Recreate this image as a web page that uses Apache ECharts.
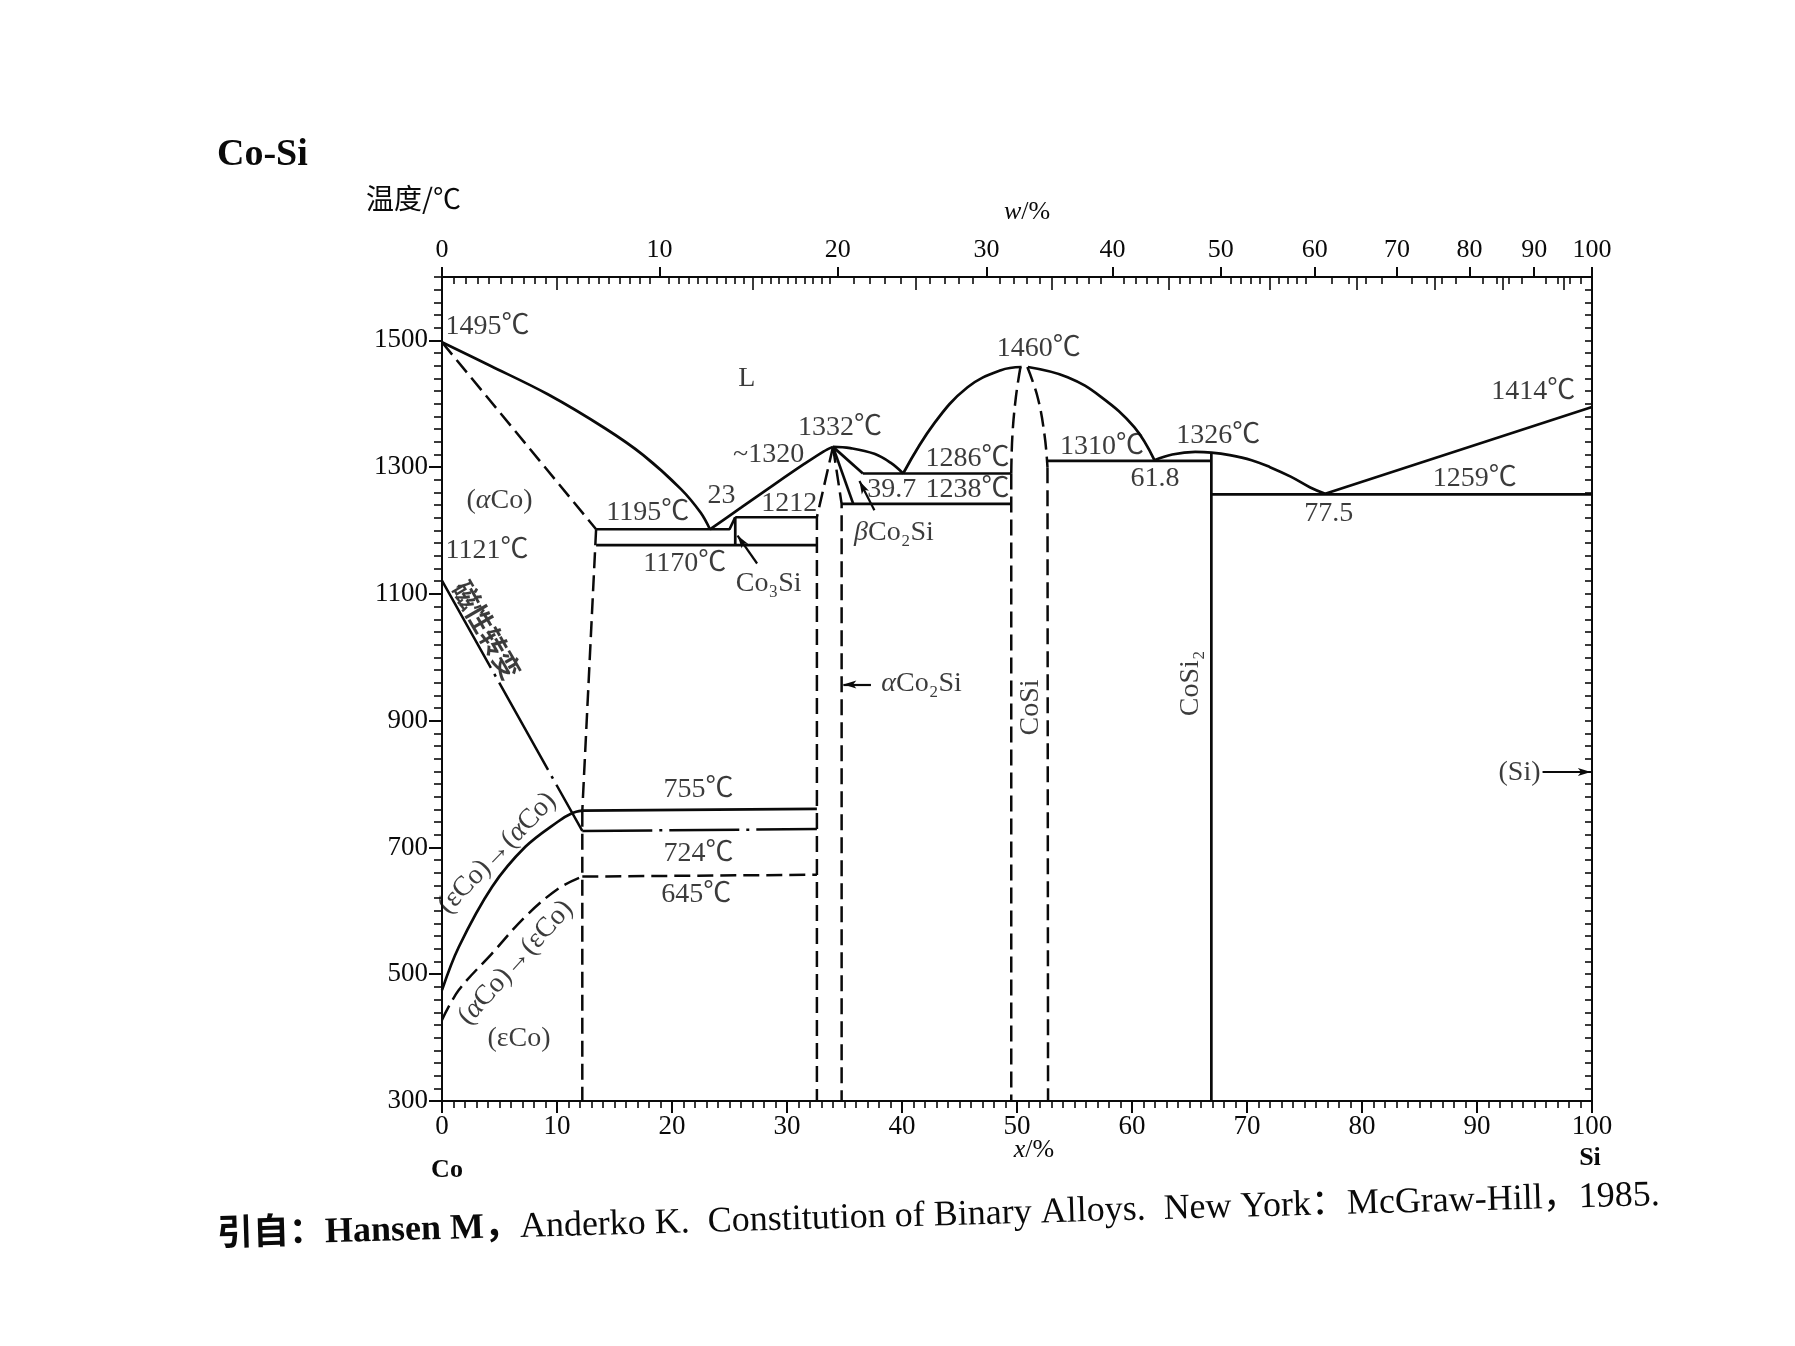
<!DOCTYPE html>
<html><head><meta charset="utf-8">
<script src="https://cdn.jsdelivr.net/npm/echarts@6/dist/echarts.min.js"></script>
<style>html,body{margin:0;padding:0;background:#fff;}#c{width:1795px;height:1346px;}</style>
</head><body><div id="c"></div>
<script>
const FONT = "'Liberation Serif','Noto Sans CJK SC',serif";
const CJK = "'Noto Sans CJK SC','Liberation Serif',sans-serif";
const INK = '#0a0a0a';

// ---- tick labels ----
const xTickLabels = [0,10,20,30,40,50,60,70,80,90,100];          // x/% (at.% Si)
const yTickLabels = [300,500,700,900,1100,1300,1500];            // temperature
const wtTickLabels = [0,10,20,30,40,50,60,70,80,90,100];         // w/% (wt.% Si)

// ---- phase boundaries: [x at.% Si, T °C] ----
const liquidusCo      = [[0,1497],[4.2,1460],[9.2,1415],[14.2,1361],[17.5,1319],[20.8,1265],[22.5,1228],[23.3,1202]];
const solidusCo       = [[0,1497],[13.4,1202]];
const solvusCoUpper   = [[13.4,1202],[12.2,758]];
const solvusCoLower   = [[12.2,758],[12.2,300]];
const eutectic1195    = [[13.4,1202],[25.0,1202],[25.5,1221]];
const peritectic1212  = [[25.5,1221],[32.6,1221]];
const co3SiLine       = [[25.5,1221],[25.5,1177]];
const eutectoid1170   = [[13.4,1177],[32.6,1177]];
const liquidusCo2SiL  = [[23.3,1202],[26,1236],[29,1274],[31.5,1305],[33.2,1325],[34,1332]];
const liquidusCo2SiR  = [[34,1332],[35.5,1330],[37.6,1321],[39,1307],[40.1,1290]];
const co2SiLeftDash   = [[34,1332],[32.6,1221],[32.6,300]];
const co2SiRightDash  = [[34,1332],[34.75,1242],[34.75,300]];
const betaBoundUpper  = [[34,1332],[36.6,1290]];
const betaBoundLower  = [[34,1332],[35.76,1242]];
const eutectic1286    = [[36.6,1290],[49.5,1290]];
const eutectoid1238   = [[34.75,1242],[49.5,1242]];
const liquidusCoSiL   = [[40.1,1290],[42.8,1369],[45.7,1426],[48.6,1453],[50.4,1458]];
const liquidusCoSiR   = [[50.95,1458],[54.4,1442],[57.3,1411],[60.2,1363],[61.95,1311]];
const coSiLeftTop     = [[50.3,1458],[49.9,1410],[49.6,1350],[49.5,1290]];
const coSiLeftLow     = [[49.5,1290],[49.5,300]];
const coSiRightTop    = [[50.9,1458],[51.8,1410],[52.4,1350],[52.65,1300]];
const coSiRightLow    = [[52.65,1300],[52.7,300]];
const eutectic1310    = [[52.65,1310],[66.9,1310]];
const liquidusCoSi2   = [[61.95,1311],[63.5,1320],[65.5,1324],[66.9,1323],[68.5,1319],[70.4,1311],[72,1300],[73.8,1285],[75.5,1268],[76.8,1258]];
const coSi2Line       = [[66.9,1323],[66.9,300]];
const eutectic1259    = [[66.9,1257],[100,1257]];
const liquidusSi      = [[76.8,1258],[100,1395]];
const magneticLine    = [[0,1121],[12.2,726]];
const line755         = [[12.2,758],[32.6,761]];
const line724         = [[12.2,726],[32.6,729]];
const line645         = [[12.2,654],[32.6,657]];
const epsToAlpha      = [[0,475],[1.46,543],[4.36,638],[7.25,701],[10.1,741],[11.3,754],[12.2,758]];
const alphaToEps      = [[0,428],[1.46,475],[4.36,533],[7.25,591],[10.1,635],[12.2,654]];

// ---- annotations: [text, x, T, rotate, align, font] ----
const annotations = [
  ['1495℃',0.3,1522,0,'left'],
  ['L',26.5,1440,0],
  ['1332℃',34.6,1363,0],
  ['~1320',28.4,1320,0],
  ['1460℃',51.9,1487,0],
  ['1286℃',45.7,1314,0],
  ['1238℃',45.7,1264,0],
  ['39.7',39.1,1264,0],
  ['{i|β}Co₂Si',39.3,1197,0],
  ['1310℃',57.4,1332,0],
  ['61.8',62.0,1282,0],
  ['1326℃',67.5,1350,0],
  ['1414℃',94.9,1419,0],
  ['1259℃',89.8,1282,0],
  ['77.5',77.1,1226,0],
  ['({i|α}Co)',5.0,1247,0],
  ['1195℃',17.9,1229,0],
  ['23',24.3,1255,0],
  ['1212',30.2,1242,0],
  ['1121℃',0.3,1168,0,'left'],
  ['1170℃',21.1,1148,0],
  ['Co₃Si',28.4,1117,0],
  ['磁性转变',3.9,1043,-60,'center','cjk'],
  ['{i|α}Co₂Si',41.7,958,0],
  ['CoSi',51.2,921,90],
  ['CoSi₂',65.1,959,90],
  ['(Si)',93.7,818,0],
  ['755℃',22.3,791,0],
  ['724℃',22.3,691,0],
  ['645℃',22.1,625,0],
  ['(εCo)→({i|α}Co)',4.8,691,46],
  ['({i|α}Co)→(εCo)',6.4,518,48],
  ['(εCo)',6.7,399,0]
];
const arrows = [
  [[27.4,1148],[25.7,1192]],
  [[37.6,1232],[36.3,1278]],
  [[37.3,957],[34.9,957]],
  [[95.7,819],[99.9,819]]
];

// weight% -> atom% conversion for the top axis
const M_SI = 28.086, M_CO = 58.933;
function wtToAt(w){ if (w >= 100) return 100; const a = w / M_SI, b = (100 - w) / M_CO; return 100 * a / (a + b); }
const wtMajorAt = wtTickLabels.map(wtToAt);
const wtMid = [5,15,25,35,45,55,65,75,85,95];
const wtMidAt = wtMid.map(wtToAt);
const wtMinorAt = [];
for (let w = 0.5; w < 100; w += (w < 20 ? 0.5 : (w < 60 ? 1 : 2))) {
  if (w % 5 !== 0) wtMinorAt.push(wtToAt(w));
}

const solid = {color: INK, width: 2.7, type: 'solid'};
const dashed = {color: INK, width: 2.5, type: [16, 7]};
const dashDot = {color: INK, width: 2.5, type: [100, 7, 3, 7]};
const dashDot2 = {color: INK, width: 2.5, type: [70, 7, 3, 7]};

function ln(data, style, smooth) {
  return {type: 'line', data: data, symbol: 'none', showSymbol: false, smooth: smooth || false,
    lineStyle: style, silent: true, animation: false, z: 3, xAxisIndex: 0, yAxisIndex: 0};
}

const series = [
  ln(liquidusCo, solid, 0.35),
  ln(solidusCo, dashed),
  ln(solvusCoUpper, dashed),
  ln(solvusCoLower, dashed),
  ln(eutectic1195, solid),
  ln(peritectic1212, solid),
  ln(co3SiLine, solid),
  ln(eutectoid1170, solid),
  ln(liquidusCo2SiL, solid, 0.3),
  ln(liquidusCo2SiR, solid, 0.4),
  ln(co2SiLeftDash, dashed),
  ln(co2SiRightDash, dashed),
  ln(betaBoundUpper, solid),
  ln(betaBoundLower, solid),
  ln(eutectic1286, solid),
  ln(eutectoid1238, solid),
  ln(liquidusCoSiL, solid, 0.4),
  ln(liquidusCoSiR, solid, 0.4),
  ln(coSiLeftTop, dashed, 0.4),
  ln(coSiLeftLow, dashed),
  ln(coSiRightTop, dashed, 0.4),
  ln(coSiRightLow, dashed),
  ln(eutectic1310, solid),
  ln(liquidusCoSi2, solid, 0.4),
  ln(coSi2Line, solid),
  ln(eutectic1259, solid),
  ln(liquidusSi, solid),
  ln(magneticLine, dashDot),
  ln(line755, solid),
  ln(line724, dashDot2),
  ln(line645, dashed),
  ln(epsToAlpha, solid, 0.35),
  ln(alphaToEps, dashed, 0.35)
];

const richStyles = {i: {fontStyle: 'italic', fontFamily: FONT, fontSize: 28, color: INK}};
series.push({
  type: 'scatter', xAxisIndex: 0, yAxisIndex: 0, silent: true, animation: false, z: 5,
  symbolSize: 1, itemStyle: {color: 'rgba(0,0,0,0)'},
  data: annotations.map(a => ({
    value: [a[1], a[2]],
    label: {
      show: true, position: 'inside', formatter: a[0], rotate: a[3] || 0,
      align: a[4] || 'center', verticalAlign: 'middle',
      fontFamily: a[5] === 'cjk' ? CJK : FONT, fontSize: a[5] === 'cjk' ? 27 : 28,
      fontWeight: a[5] === 'cjk' ? 'bold' : 'normal',
      color: INK, rich: richStyles
    }
  })),
  markLine: {
    silent: true, animation: false, symbol: ['none', 'arrow'], symbolSize: [6, 13],
    label: {show: false}, lineStyle: {color: INK, width: 2.2, type: 'solid'},
    emphasis: {disabled: true},
    data: arrows.map(p => [{coord: p[0]}, {coord: p[1]}])
  }
});

const axisLineStyle = {color: INK, width: 2};
const labelFont = {fontFamily: FONT, fontSize: 27, color: INK};

const option = {
  backgroundColor: '#ffffff',
  animation: false,
  grid: {left: 442, right: 203, top: 277, bottom: 245, containLabel: false},
  xAxis: [
    {type: 'value', position: 'bottom', min: 0, max: 100, interval: 10,
     axisLine: {show: true, onZero: false, lineStyle: axisLineStyle},
     axisTick: {show: true, length: 12, lineStyle: axisLineStyle},
     minorTick: {show: true, splitNumber: 10, length: 7, lineStyle: {color: INK, width: 1.6}},
     axisLabel: Object.assign({margin: 12, formatter: v => (xTickLabels.indexOf(v) >= 0 ? String(v) : '')}, labelFont),
     splitLine: {show: false}, minorSplitLine: {show: false}},
    {type: 'value', position: 'top', min: 0, max: 100,
     axisLine: {show: true, onZero: false, lineStyle: axisLineStyle},
     axisTick: {show: true, inside: false, length: 10, customValues: wtMajorAt, lineStyle: axisLineStyle},
     axisLabel: Object.assign({margin: 14, customValues: wtMajorAt,
       formatter: function (v) {
         let best = 0, d = 1e9;
         wtMajorAt.forEach((a, i) => { if (Math.abs(a - v) < d) { d = Math.abs(a - v); best = i; } });
         return String(wtTickLabels[best]);
       }}, labelFont, {fontSize: 26}),
     splitLine: {show: false}},
    {type: 'value', position: 'top', min: 0, max: 100,
     axisLine: {show: false, onZero: false},
     axisTick: {show: true, inside: true, length: 7, customValues: wtMinorAt, lineStyle: {color: INK, width: 1.6}},
     axisLabel: {show: false}, splitLine: {show: false}},
    {type: 'value', position: 'top', min: 0, max: 100,
     axisLine: {show: false, onZero: false},
     axisTick: {show: true, inside: true, length: 13, customValues: wtMidAt, lineStyle: {color: INK, width: 1.6}},
     axisLabel: {show: false}, splitLine: {show: false}}
  ],
  yAxis: [
    {type: 'value', position: 'left', min: 300, max: 1600, interval: 20,
     axisLine: {show: true, onZero: false, lineStyle: axisLineStyle},
     axisTick: {show: true, length: 8, lineStyle: {color: INK, width: 1.6}},
     axisLabel: {show: false}, splitLine: {show: false}},
    {type: 'value', position: 'left', min: 300, max: 1600, interval: 200,
     axisLine: {show: false, onZero: false},
     axisTick: {show: true, length: 13, customValues: yTickLabels, lineStyle: axisLineStyle},
     axisLabel: Object.assign({margin: 14, customValues: yTickLabels, formatter: v => String(v)}, labelFont),
     splitLine: {show: false}},
    {type: 'value', position: 'right', min: 300, max: 1600, interval: 20,
     axisLine: {show: true, onZero: false, lineStyle: axisLineStyle},
     axisTick: {show: true, inside: true, length: 7, lineStyle: {color: INK, width: 1.6}},
     axisLabel: {show: false}, splitLine: {show: false}}
  ],
  graphic: [
    {type: 'text', left: 217, top: 136, silent: true,
     style: {text: 'Co-Si', font: "bold 38px 'Liberation Serif', serif", fill: INK}},
    {type: 'text', left: 366, top: 184, silent: true,
     style: {text: '温度/℃', font: "28px 'Noto Sans CJK SC', sans-serif", fill: INK}},
    {type: 'text', x: 1027, y: 212, silent: true,
     style: {text: '{i|w}/%', align: 'center', verticalAlign: 'middle', font: "26px 'Liberation Serif', serif", fill: INK,
       rich: {i: {fontStyle: 'italic', fontSize: 26, fontFamily: 'Liberation Serif'}}}},
    {type: 'text', x: 1034, y: 1150, silent: true,
     style: {text: '{i|x}/%', align: 'center', verticalAlign: 'middle', font: "26px 'Liberation Serif', serif", fill: INK,
       rich: {i: {fontStyle: 'italic', fontSize: 26, fontFamily: 'Liberation Serif'}}}},
    {type: 'text', x: 447, y: 1170, silent: true,
     style: {text: 'Co', align: 'center', verticalAlign: 'middle', font: "bold 26px 'Liberation Serif', serif", fill: INK}},
    {type: 'text', x: 1590, y: 1158, silent: true,
     style: {text: 'Si', align: 'center', verticalAlign: 'middle', font: "bold 26px 'Liberation Serif', serif", fill: INK}},
    {type: 'text', x: 217, y: 1236, rotation: 0.028, silent: true,
     style: {text: '{b|引自：Hansen M，}Anderko K.  Constitution of Binary Alloys.  New York：McGraw-Hill，1985.',
       verticalAlign: 'middle', font: "36px 'Liberation Serif', 'Noto Sans CJK SC', serif", fill: INK,
       rich: {b: {fontWeight: 'bold', fontSize: 36, fontFamily: "'Liberation Serif','Noto Sans CJK SC',serif"}}}}
  ],
  series: series
};

const chart = echarts.init(document.getElementById('c'), null, {renderer: 'canvas'});
chart.setOption(option);
</script>
</body></html>
